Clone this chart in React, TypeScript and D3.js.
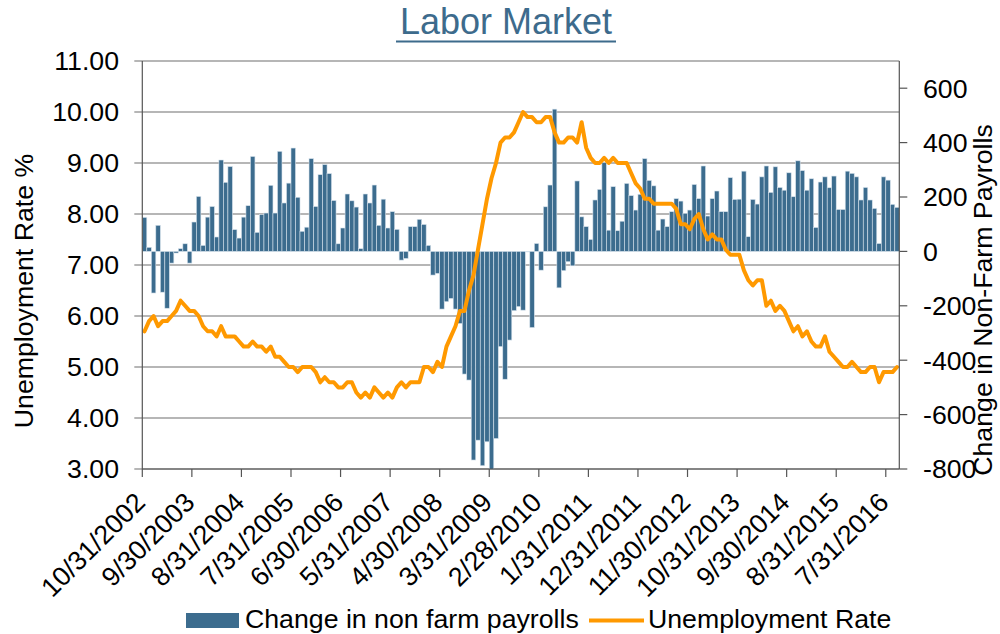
import React from 'react';
import * as d3 from 'd3';

// monthly change in non farm payrolls (thousands), Oct 2002 .. Sep 2016
const payrolls2002 = [125, 15, -153];
const payrolls2003 = [96, -150, -209, -43, -6, 10, 28, -43, 108, 202, 22, 126];
const payrolls2004 = [165, 53, 336, 254, 312, 80, 49, 126, 168, 349, 70, 135];
const payrolls2005 = [141, 243, 141, 368, 178, 251, 380, 199, 74, 89, 341, 165];
const payrolls2006 = [282, 319, 286, 187, 28, 86, 211, 186, 163, 10, 211, 178];
const payrolls2007 = [244, 96, 192, 86, 146, 81, -32, -26, 91, 91, 118, 99];
const payrolls2008 = [22, -87, -81, -212, -185, -173, -212, -265, -451, -473, -767, -694];
const payrolls2009 = [-788, -700, -805, -688, -350, -470, -326, -218, -203, -216, -2, -280];
const payrolls2010 = [29, -69, 164, 244, 523, -134, -71, -38, -53, 259, 127, 91];
const payrolls2011 = [44, 189, 228, 326, 78, 238, 76, 111, 250, 205, 152, 210];
const payrolls2012 = [341, 261, 241, 78, 119, 91, 146, 194, 185, 140, 152, 246];
const payrolls2013 = [194, 314, 130, 194, 222, 146, 146, 271, 191, 192, 295, 54];
const payrolls2014 = [191, 174, 274, 314, 217, 311, 235, 225, 289, 201, 333, 297];
const payrolls2015 = [225, 267, 88, 255, 274, 234, 277, 154, 154, 295, 287, 274];
const payrolls2016 = [189, 235, 189, 158, 29, 274, 262, 173, 162];

// unemployment rate %, same months
const rate2002 = [5.7, 5.9, 6.0];
const rate2003 = [5.8, 5.9, 5.9, 6.0, 6.1, 6.3, 6.2, 6.1, 6.1, 6.0, 5.8, 5.7];
const rate2004 = [5.7, 5.6, 5.8, 5.6, 5.6, 5.6, 5.5, 5.4, 5.4, 5.5, 5.4, 5.4];
const rate2005 = [5.3, 5.4, 5.2, 5.2, 5.1, 5.0, 5.0, 4.9, 5.0, 5.0, 5.0, 4.9];
const rate2006 = [4.7, 4.8, 4.7, 4.7, 4.6, 4.6, 4.7, 4.7, 4.5, 4.4, 4.5, 4.4];
const rate2007 = [4.6, 4.5, 4.4, 4.5, 4.4, 4.6, 4.7, 4.6, 4.7, 4.7, 4.7, 5.0];
const rate2008 = [5.0, 4.9, 5.1, 5.0, 5.4, 5.6, 5.8, 6.1, 6.1, 6.5, 6.8, 7.3];
const rate2009 = [7.8, 8.3, 8.7, 9.0, 9.4, 9.5, 9.5, 9.6, 9.8, 10.0, 9.9, 9.9];
const rate2010 = [9.8, 9.8, 9.9, 9.9, 9.6, 9.4, 9.4, 9.5, 9.5, 9.4, 9.8, 9.3];
const rate2011 = [9.1, 9.0, 9.0, 9.1, 9.0, 9.1, 9.0, 9.0, 9.0, 8.8, 8.6, 8.5];
const rate2012 = [8.3, 8.3, 8.2, 8.2, 8.2, 8.2, 8.2, 8.1, 7.8, 7.8, 7.7, 7.9];
const rate2013 = [8.0, 7.7, 7.5, 7.6, 7.5, 7.5, 7.3, 7.2, 7.2, 7.2, 6.9, 6.7];
const rate2014 = [6.6, 6.7, 6.7, 6.2, 6.3, 6.1, 6.2, 6.1, 5.9, 5.7, 5.8, 5.6];
const rate2015 = [5.7, 5.5, 5.4, 5.4, 5.6, 5.3, 5.2, 5.1, 5.0, 5.0, 5.1, 5.0];
const rate2016 = [4.9, 4.9, 5.0, 5.0, 4.7, 4.9, 4.9, 4.9, 5.0];

const tickLabels = [
  '10/31/2002', '9/30/2003', '8/31/2004', '7/31/2005', '6/30/2006', '5/31/2007',
  '4/30/2008', '3/31/2009', '2/28/2010', '1/31/2011', '12/31/2011', '11/30/2012',
  '10/31/2013', '9/30/2014', '8/31/2015', '7/31/2016',
];
const leftTicks = [3, 4, 5, 6, 7, 8, 9, 10, 11];
const rightTicks = [-800, -600, -400, -200, 0, 200, 400, 600];

const payrolls = [
  ...payrolls2002, ...payrolls2003, ...payrolls2004, ...payrolls2005, ...payrolls2006,
  ...payrolls2007, ...payrolls2008, ...payrolls2009, ...payrolls2010, ...payrolls2011,
  ...payrolls2012, ...payrolls2013, ...payrolls2014, ...payrolls2015, ...payrolls2016,
];
const rates = [
  ...rate2002, ...rate2003, ...rate2004, ...rate2005, ...rate2006, ...rate2007,
  ...rate2008, ...rate2009, ...rate2010, ...rate2011, ...rate2012, ...rate2013,
  ...rate2014, ...rate2015, ...rate2016,
];

const FONT = '"Liberation Sans", Arial, sans-serif';
const BLUE = '#3c6c8e';
const ORANGE = '#ff9900';

export default function App() {
  const left = 142.3, right = 899.3, top = 61, bottom = 469;
  const idx = d3.range(payrolls.length);

  const x = d3.scaleBand<number>().domain(idx).range([left, right]).padding(0);
  const yL = d3.scaleLinear().domain([3, 11]).range([bottom, top]);
  const yR = d3.scaleLinear().domain([-800, 700]).range([bottom, top]);
  const bw = x.bandwidth();

  const line = d3.line<number>()
    .x((_, i) => (x(i) as number) + bw / 2)
    .y(d => yL(d));

  return (
    <svg width={1000} height={634} style={{ position: 'absolute', left: 0, top: 0 }} fontFamily={FONT}>
      <rect width={1000} height={634} fill="#fff" />
      <defs>
        <clipPath id="plot">
          <rect x={left} y={top} width={right - left} height={bottom - top} />
        </clipPath>
      </defs>

      {/* title */}
      <text x={506} y={34} textAnchor="middle" fontSize={36} fill="#3d6b8c">Labor Market</text>
      <line x1={396} x2={616} y1={41.5} y2={41.5} stroke="#3d6b8c" strokeWidth={2} />

      {/* gridlines */}
      {leftTicks.map(t => (
        <line key={t} x1={left - 8} x2={right} y1={yL(t)} y2={yL(t)} stroke="#6f6f6f" strokeWidth={1.2} />
      ))}

      {/* bars */}
      <g clipPath="url(#plot)">
        {payrolls.map((v, i) => (
          <rect key={i} x={x(i)} width={bw}
            y={Math.min(yR(v), yR(0))} height={Math.abs(yR(v) - yR(0))}
            fill={BLUE} stroke="#d6e2ec" strokeWidth={0.6} />
        ))}
      </g>

      {/* unemployment line */}
      <path d={line(rates) || ''} fill="none" stroke={ORANGE} strokeWidth={4} strokeLinejoin="round" strokeLinecap="round" />

      {/* axes */}
      <line x1={left} x2={left} y1={top} y2={bottom} stroke="#555" strokeWidth={1.2} />
      <line x1={right} x2={right} y1={top} y2={bottom} stroke="#555" strokeWidth={1.2} />
      <line x1={left} x2={right} y1={bottom} y2={bottom} stroke="#555" strokeWidth={1.2} />
      {rightTicks.map(t => (
        <g key={t}>
          <line x1={right} x2={right + 8} y1={yR(t)} y2={yR(t)} stroke="#555" strokeWidth={1.2} />
          <text x={923} y={yR(t)} dy="0.35em" fontSize={26.7} fill="#000">{t}</text>
        </g>
      ))}
      {leftTicks.map(t => (
        <text key={t} x={119} y={yL(t)} dy="0.35em" textAnchor="end" fontSize={26.7} fill="#000">{t.toFixed(2)}</text>
      ))}
      {tickLabels.map((lab, k) => {
        const tx = x(k * 11) as number;
        return (
          <g key={lab}>
            <line x1={tx} x2={tx} y1={bottom} y2={bottom + 8} stroke="#555" strokeWidth={1.2} />
            <text transform={`translate(${tx + 4.5},${504}) rotate(-45)`} textAnchor="end" fontSize={26.7} fill="#000">{lab}</text>
          </g>
        );
      })}

      {/* axis titles */}
      <text transform="translate(24,291) rotate(-90)" textAnchor="middle" dominantBaseline="central" fontSize={26.7} fill="#000">Unemployment Rate %</text>
      <text transform="translate(983,300) rotate(-90)" textAnchor="middle" dominantBaseline="central" fontSize={26.7} fill="#000">Change in Non-Farm Payrolls</text>

      {/* legend */}
      <rect x={186} y={613} width={53} height={15} fill={BLUE} />
      <text x={245} y={628} fontSize={26.7} fill="#000">Change in non farm payrolls</text>
      <line x1={589} x2={644} y1={620.5} y2={620.5} stroke={ORANGE} strokeWidth={4} />
      <text x={648} y={628} fontSize={26.7} fill="#000">Unemployment Rate</text>
    </svg>
  );
}
